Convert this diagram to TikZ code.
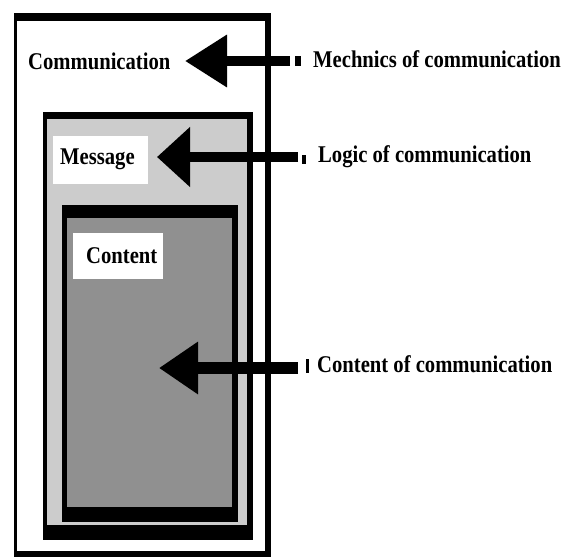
\documentclass[tikz,border=0pt]{standalone}
\usepackage{fontspec}
\setmainfont{Liberation Serif}[FakeStretch=0.86]
\usetikzlibrary{arrows.meta}
\definecolor{lightfill}{HTML}{CCCCCC}
\definecolor{darkfill}{HTML}{909090}
\tikzset{
  lbl/.style={font=\fontsize{24}{26}\selectfont\bfseries, inner sep=0pt, anchor=west},
  tagbox/.style={fill=white, inner sep=0pt, anchor=north west},
  marker/.style={fill=black, inner sep=0pt, minimum width=#1, anchor=west},
  bigarrow/.style args={#1/#2/#3}{line width=#1, -{Triangle[length=#2, width=#3]}}
}
\begin{document}
\begin{tikzpicture}[x=1pt,y=-1pt]
\useasboundingbox (0,0) rectangle (578,558);
% outer box
\fill[black] (14,13) rectangle (271,557);
\fill[white] (17,21) rectangle (265,551);
% message box
\fill[black] (43,112) rectangle (253,540);
\fill[lightfill] (47,119) rectangle (247,525);
% content box
\fill[black] (62,205) rectangle (238,522);
\fill[darkfill] (67,218) rectangle (232,507);

% labels inside
\node[lbl] (comm) at (28,61) {Communication};
\node[tagbox, minimum width=95pt, minimum height=48pt] (msgbox) at (53,136) {};
\node[lbl] (msg) at (60,159) {Message};
\node[tagbox, minimum width=90pt, minimum height=46pt] (conbox) at (73,233) {};
\node[lbl] (con) at (86,256) {Content};

% markers
\node[marker=6pt, minimum height=10pt] (m1) at (295,61) {};
\node[marker=4pt, minimum height=9pt] (m2) at (302,159) {};
\node[marker=3pt, minimum height=14pt] (m3) at (306,366) {};

% right labels
\node[lbl] (t1) at (313,59) {Mechnics of communication};
\node[lbl] (t2) at (318,157) {Logic of communication};
\node[lbl] (t3) at (317,364) {Content of communication};

% arrow tips
\coordinate (a1) at (185,61);
\coordinate (a2) at (157,157);
\coordinate (a3) at (159,368);
\coordinate (s1) at (290,61);
\coordinate (s2) at (298,157);
\coordinate (s3) at (298,368);

\draw[bigarrow=10pt/42pt/50pt] (s1) -- (a1);
\draw[bigarrow=10pt/33pt/58pt] (s2) -- (a2);
\draw[bigarrow=12pt/39pt/50pt] (s3) -- (a3);
\end{tikzpicture}
\end{document}
